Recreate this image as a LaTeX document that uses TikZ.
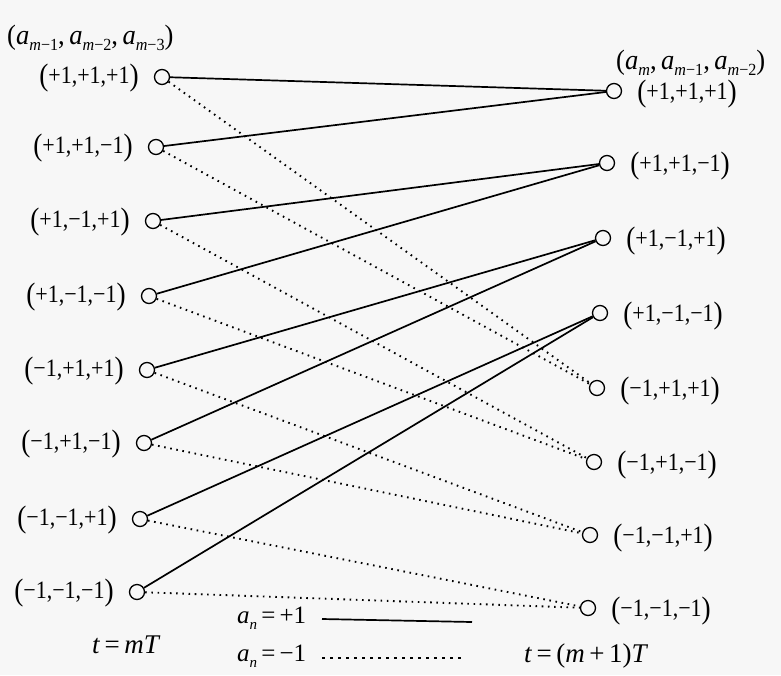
\documentclass[tikz,border=0pt]{standalone}
\usepackage{fontspec}
\setmainfont{Liberation Serif}
\newcommand\hsub[1]{\raisebox{-0.5ex}{\fontsize{17}{17}\selectfont #1}}
\newcommand\lsub[1]{\raisebox{-0.5ex}{\fontsize{15}{15}\selectfont #1}}
\newcommand\bigp[1]{{\fontsize{31}{31}\selectfont\raisebox{-1.5pt}{#1}}}
\newcommand\stlab[1]{\scalebox{0.88}[1]{\bigp{(}#1\bigp{)}}}
\begin{document}
\begin{tikzpicture}[x=1pt,y=-1pt,
  st/.style={circle,draw,line width=1.3pt,minimum size=15pt,inner sep=0pt},
  lab/.style={font=\fontsize{25}{28}\selectfont,inner sep=0pt},
  hdr/.style={font=\fontsize{28}{30}\selectfont,inner sep=0pt},
  plusline/.style={line width=1.7pt},
  minusline/.style={line width=1.9pt,dash pattern=on 1.6pt off 4.6pt}]
\fill[black!3] (0,0) rectangle (781,675);
\useasboundingbox (0,0) rectangle (781,675);
% left states
\node[st] (L1) at (162,77) {};
\node[st] (L2) at (156,147) {};
\node[st] (L3) at (153,221) {};
\node[st] (L4) at (149,296) {};
\node[st] (L5) at (147,370) {};
\node[st] (L6) at (144,443) {};
\node[st] (L7) at (140,519) {};
\node[st] (L8) at (137,592) {};
% right states
\node[st] (R1) at (614,91) {};
\node[st] (R2) at (607,163) {};
\node[st] (R3) at (603,238) {};
\node[st] (R4) at (600,313) {};
\node[st] (R5) at (597,388) {};
\node[st] (R6) at (594,462) {};
\node[st] (R7) at (590,535) {};
\node[st] (R8) at (588,608) {};
% left labels
\node[lab,anchor=east] (l1) at ([xshift=-15pt,yshift=-1pt]L1.west) {\stlab{+1,+1,+1}};
\node[lab,anchor=east] (l2) at ([xshift=-15pt,yshift=-1pt]L2.west) {\stlab{+1,+1,−1}};
\node[lab,anchor=east] (l3) at ([xshift=-15pt,yshift=-1pt]L3.west) {\stlab{+1,−1,+1}};
\node[lab,anchor=east] (l4) at ([xshift=-15pt,yshift=-1pt]L4.west) {\stlab{+1,−1,−1}};
\node[lab,anchor=east] (l5) at ([xshift=-15pt,yshift=-1pt]L5.west) {\stlab{−1,+1,+1}};
\node[lab,anchor=east] (l6) at ([xshift=-15pt,yshift=-1pt]L6.west) {\stlab{−1,+1,−1}};
\node[lab,anchor=east] (l7) at ([xshift=-15pt,yshift=-1pt]L7.west) {\stlab{−1,−1,+1}};
\node[lab,anchor=east] (l8) at ([xshift=-15pt,yshift=-1pt]L8.west) {\stlab{−1,−1,−1}};
% right labels
\node[lab,anchor=west] (r1) at ([xshift=15pt,yshift=-3pt]R1.east) {\stlab{+1,+1,+1}};
\node[lab,anchor=west] (r2) at ([xshift=15pt,yshift=-3pt]R2.east) {\stlab{+1,+1,−1}};
\node[lab,anchor=west] (r3) at ([xshift=15pt,yshift=-3pt]R3.east) {\stlab{+1,−1,+1}};
\node[lab,anchor=west] (r4) at ([xshift=15pt,yshift=-3pt]R4.east) {\stlab{+1,−1,−1}};
\node[lab,anchor=west] (r5) at ([xshift=15pt,yshift=-3pt]R5.east) {\stlab{−1,+1,+1}};
\node[lab,anchor=west] (r6) at ([xshift=15pt,yshift=-3pt]R6.east) {\stlab{−1,+1,−1}};
\node[lab,anchor=west] (r7) at ([xshift=15pt,yshift=-3pt]R7.east) {\stlab{−1,−1,+1}};
\node[lab,anchor=west] (r8) at ([xshift=15pt,yshift=-3pt]R8.east) {\stlab{−1,−1,−1}};
% headers
\node[hdr,anchor=west] (hl) at (7,38) {\scalebox{0.95}[1]{(\textit{a}\hsub{\textit{m}−1},\,\textit{a}\hsub{\textit{m}−2},\,\textit{a}\hsub{\textit{m}−3})}};
\node[hdr,anchor=west] (hr) at (616,63) {\scalebox{0.95}[1]{(\textit{a}\hsub{\textit{m}},\,\textit{a}\hsub{\textit{m}−1},\,\textit{a}\hsub{\textit{m}−2})}};
% transitions
\draw[plusline] (L1) -- (R1);
\draw[plusline] (L2) -- (R1);
\draw[plusline] (L3) -- (R2);
\draw[plusline] (L4) -- (R2);
\draw[plusline] (L5) -- (R3);
\draw[plusline] (L6) -- (R3);
\draw[plusline] (L7) -- (R4);
\draw[plusline] (L8) -- (R4);
\draw[minusline] (L1) -- (R5);
\draw[minusline] (L2) -- (R5);
\draw[minusline] (L3) -- (R6);
\draw[minusline] (L4) -- (R6);
\draw[minusline] (L5) -- (R7);
\draw[minusline] (L6) -- (R7);
\draw[minusline] (L7) -- (R8);
\draw[minusline] (L8) -- (R8);
% bottom
\node[lab,anchor=west] (t1) at (92,645) {\fontsize{27}{30}\selectfont\textit{t}\,=\,\textit{mT}};
\node[lab,anchor=west] (t2) at (524,656) {\fontsize{27}{30}\selectfont\textit{t}\,=\,(\textit{m}\,+\,1)\textit{T}};
\node[lab,anchor=west] (ap) at (237,618) {\textit{a}\lsub{\textit{n}}\,=\,+1};
\node[lab,anchor=west] (an) at (237,656) {\textit{a}\lsub{\textit{n}}\,=\,−1};
\coordinate (aps) at (322,619);
\coordinate (ape) at (472,622);
\coordinate (ans) at (322,658);
\coordinate (ane) at (465,658);
\draw[line width=1.7pt] (aps) -- (ape);
\draw[line width=1.9pt,dash pattern=on 3pt off 5pt] (ans) -- (ane);
\end{tikzpicture}
\end{document}
